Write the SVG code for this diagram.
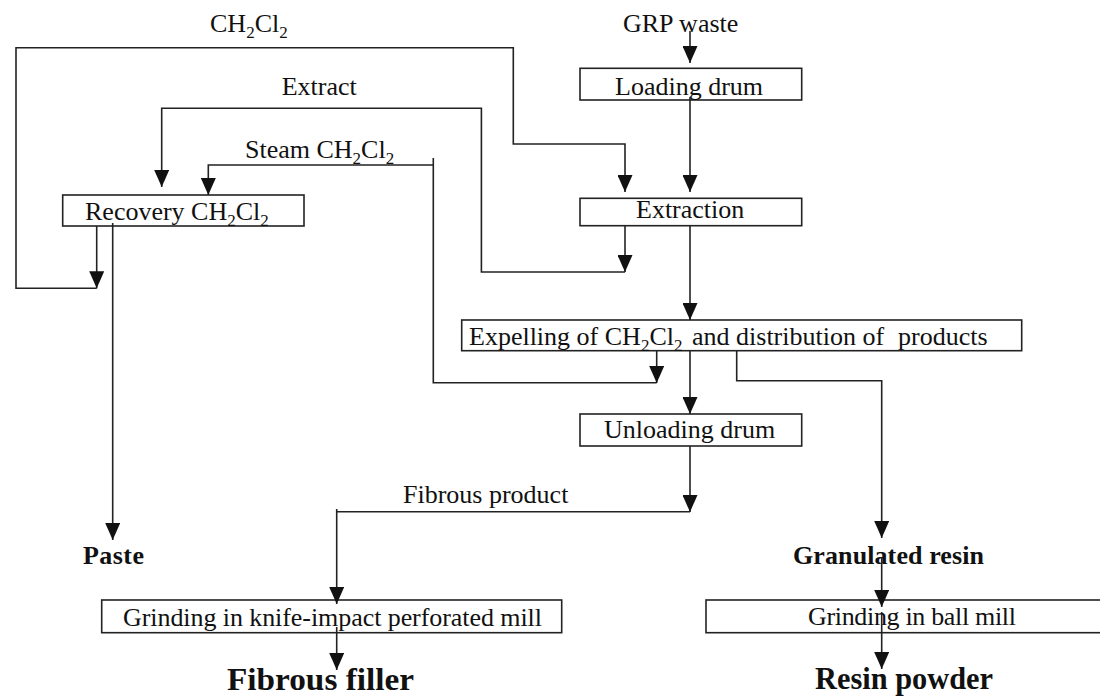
<svg xmlns="http://www.w3.org/2000/svg" width="1100" height="699" viewBox="0 0 1100 699">
  <defs>
    <marker id="arrow" markerUnits="userSpaceOnUse" viewBox="0 0 17 15" markerWidth="17" markerHeight="15" refX="17" refY="7.5" orient="auto">
      <path d="M0,0 L17,7.5 L0,15 Z" fill="#111"/>
    </marker>
  </defs>
  <style>
    .box { fill: #fff; stroke: #222; stroke-width: 1.6; }
    .link { fill: none; stroke: #222; stroke-width: 1.6; }
    .arr { marker-end: url(#arrow); }
    .lbl { font-family: "Liberation Serif", "Times New Roman", serif; font-size: 26px; fill: #111; }
    .sub { font-size: 17px; }
    .out { font-family: "Liberation Serif", "Times New Roman", serif; font-size: 26px; font-weight: bold; fill: #111; }
    .final { font-size: 31px; }
  </style>
  <rect width="1100" height="699" fill="#fff"/>

  <!-- process boxes -->
  <g id="loading-drum">
    <rect class="box" x="580" y="68.3" width="221.7" height="31.7"/>
    <text class="lbl" x="615" y="95">Loading drum</text>
  </g>
  <g id="extraction">
    <rect class="box" x="580" y="198.3" width="221.7" height="27.4"/>
    <text class="lbl" x="636" y="218">Extraction</text>
  </g>
  <g id="recovery">
    <rect class="box" x="62.7" y="195" width="241.3" height="31"/>
    <text class="lbl" x="85" y="220">Recovery CH<tspan class="sub" dy="6">2</tspan><tspan dy="-6">Cl</tspan><tspan class="sub" dy="6">2</tspan></text>
  </g>
  <g id="expelling">
    <rect class="box" x="461.7" y="320" width="560" height="30.7"/>
    <text class="lbl" x="469" y="345">Expelling of CH<tspan class="sub" dy="6">2</tspan><tspan dy="-6">Cl</tspan><tspan class="sub" dy="6">2</tspan><tspan x="692" y="345">and distribution of</tspan><tspan x="898" y="345">products</tspan></text>
  </g>
  <g id="unloading-drum">
    <rect class="box" x="580" y="414" width="221.7" height="32"/>
    <text class="lbl" x="604" y="438">Unloading drum</text>
  </g>
  <g id="knife-mill">
    <rect class="box" x="101.7" y="600" width="460" height="32.7"/>
    <text class="lbl" x="123" y="626" textLength="419" lengthAdjust="spacing">Grinding in knife-impact perforated mill</text>
  </g>
  <g id="ball-mill">
    <rect class="box" x="706" y="600" width="410" height="32.7"/>
    <text class="lbl" x="808" y="625" textLength="208" lengthAdjust="spacing">Grinding in ball mill</text>
  </g>

  <!-- inputs and products -->
  <g id="grp-waste">
    <text class="lbl" x="623" y="32">GRP waste</text>
  </g>
  <g id="paste">
    <text class="out" x="83" y="564" textLength="61" lengthAdjust="spacing">Paste</text>
  </g>
  <g id="granulated-resin">
    <text class="out" x="793" y="564" textLength="191" lengthAdjust="spacing">Granulated resin</text>
  </g>
  <g id="fibrous-filler">
    <text class="out final" x="227" y="690" textLength="187" lengthAdjust="spacingAndGlyphs">Fibrous filler</text>
  </g>
  <g id="resin-powder">
    <text class="out final" x="815" y="689" textLength="178" lengthAdjust="spacingAndGlyphs">Resin powder</text>
  </g>

  <!-- flow lines -->
  <g id="connectors">
    <path class="link arr" d="M690,31 V63"/>
    <path class="link arr" d="M690,97 V192"/>
    <path class="link arr" d="M690,226 V320"/>
    <path class="link arr" d="M690,351 V414"/>
    <path class="link arr" d="M690,446 V512"/>
    <path class="link arr" d="M336.7,509 V604"/>
    <path class="link" d="M690,511.7 H336.7"/>
    <path class="link arr" d="M336.7,627 V670"/>

    <!-- solvent return to extraction -->
    <path class="link arr" d="M96.7,226 V288.3"/>
    <path class="link arr" d="M96.7,288.3 H16 V47.7 H513.3 V144 H625 V192"/>

    <!-- extract to recovery -->
    <path class="link arr" d="M625,226 V272"/>
    <path class="link arr" d="M625,272 H481.4 V108.3 H161.7 V187"/>

    <!-- steam to recovery -->
    <path class="link arr" d="M656.7,351 V383"/>
    <path class="link" d="M656.7,382.7 H433.3 V158"/>
    <path class="link arr" d="M433.3,165 H208.3 V195"/>

    <!-- paste -->
    <path class="link arr" d="M112.7,223 V540"/>

    <!-- granulated resin -->
    <path class="link arr" d="M736.7,351 V380.7 H881.7 V538"/>
    <path class="link arr" d="M881.7,557 V607"/>
    <path class="link arr" d="M881.7,612 V669"/>
  </g>

  <!-- stream labels -->
  <g id="labels">
    <text class="lbl" x="210" y="32">CH<tspan class="sub" dy="6">2</tspan><tspan dy="-6">Cl</tspan><tspan class="sub" dy="6">2</tspan></text>
    <text class="lbl" x="281.7" y="95">Extract</text>
    <text class="lbl" x="245" y="158">Steam CH<tspan class="sub" dy="6">2</tspan><tspan dy="-6">Cl</tspan><tspan class="sub" dy="6">2</tspan></text>
    <text class="lbl" x="403" y="503">Fibrous product</text>
  </g>
</svg>
